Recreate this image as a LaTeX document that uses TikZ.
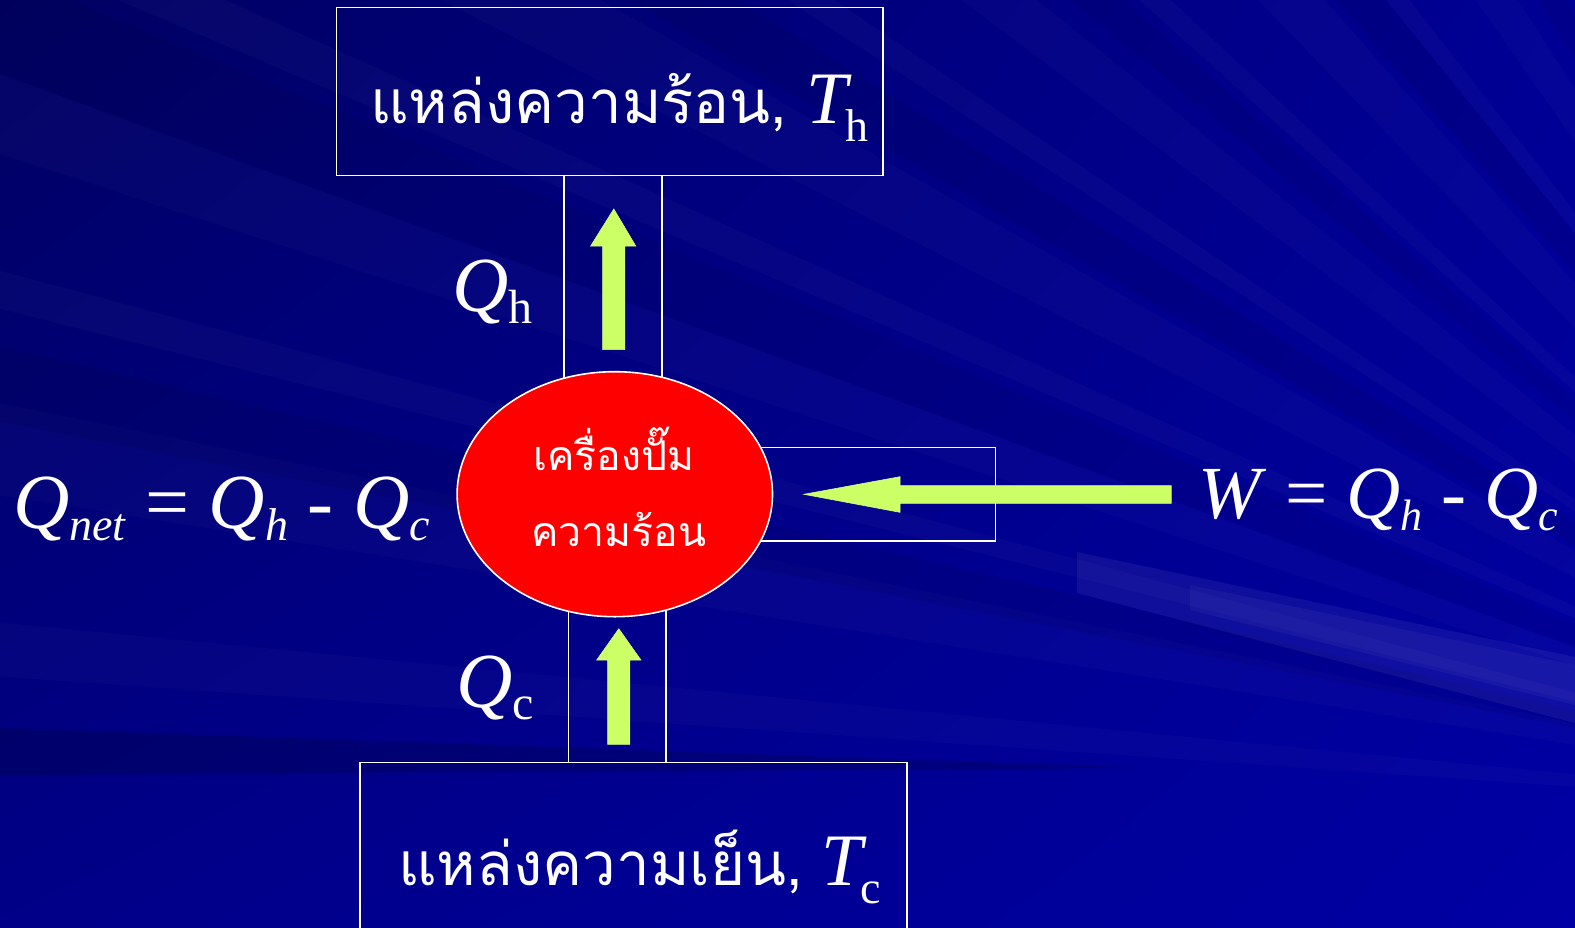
\documentclass[tikz,border=0pt]{standalone}
\usepackage{fontspec}
\setmainfont{Liberation Serif}
\newfontfamily\thaifont[Script=Thai]{Loma}
\usetikzlibrary{shapes.geometric,shadings}
\definecolor{arrowgreen}{HTML}{CCFF66}
\definecolor{bgUL}{HTML}{000062}
\definecolor{bgUR}{HTML}{000094}
\definecolor{bgLL}{HTML}{000088}
\definecolor{bgLR}{HTML}{0000A4}
\definecolor{pumpred}{HTML}{FF0000}
\newcommand\mysub[3]{\raisebox{-#1}{\fontsize{#2}{#2}\selectfont #3}}
\begin{document}
\begin{tikzpicture}[x=1pt,y=-1pt,
  box/.style={draw=white, line width=1.6pt, inner sep=0pt},
  wline/.style={draw=white, line width=1.6pt},
  txt/.style={text=white, inner sep=0pt, anchor=base west},
  blockarrow/.style={fill=arrowgreen, draw=arrowgreen!80!white, line width=0.6pt}]
\useasboundingbox (0,0) rectangle (1575,927);
% background
\shade[upper left=bgUL, upper right=bgUR, lower left=bgLL, lower right=bgLR] (0,0) rectangle (1575,927);
\begin{scope}
\clip (0,0) rectangle (1575,927);
\coordinate (O) at (2050,820);
\foreach \a/\w/\o in {184/1.5/0.018, 189/2.5/0.02, 194/1/0.025, 198/2/0.02, 203/1.2/0.025,
                      207/2.5/0.018, 213/1/0.025, 217/2/0.02, 222/1/0.025, 226/2.5/0.018,
                      231/1/0.025, 235/2/0.02, 240/1.2/0.025}
  \fill[white, opacity=\o] (O) -- +(\a:3000) -- +(\a+\w:3000) -- cycle;
\foreach \a/\w/\o in {191/2/0.07, 200/2.5/0.06, 210/2/0.07, 220/1.5/0.06, 229/2/0.07, 238/1.5/0.06}
  \fill[black, opacity=\o] (O) -- +(\a:3000) -- +(\a+\w:3000) -- cycle;
\fill[white, opacity=0.06] (1077,552) -- (1575,657) -- (1575,723) -- (1077,593) -- cycle;
\fill[white, opacity=0.04] (1190,585) -- (1575,665) -- (1575,705) -- (1190,610) -- cycle;
\fill[black, opacity=0.16] (0,728) -- (1150,768) -- (0,775) -- cycle;
\end{scope}

% boxes
\node[box, minimum width=546.5pt, minimum height=168pt] (hot) at (609.7,91.3) {};
\node[box, minimum width=547.5pt, minimum height=190pt] (cold) at (633.5,857.3) {};
\node[box, minimum width=300pt, minimum height=93.7pt] (work) at (845.4,494.2) {};
% connector stems (hidden behind the pump)
\coordinate (tl) at (563.9,260);
\coordinate (tr) at (662.1,260);
\coordinate (bl) at (568.5,700);
\coordinate (br) at (666.0,700);
\draw[wline] (hot.south -| tl) -- (tl |- 0,494);
\draw[wline] (hot.south -| tr) -- (tr |- 0,494);
\draw[wline] (cold.north -| bl) -- (bl |- 0,494);
\draw[wline] (cold.north -| br) -- (br |- 0,494);
% pump
\node[ellipse, fill=pumpred, draw=white, line width=1.6pt, inner sep=0pt,
      minimum width=315.4pt, minimum height=245pt] (pump) at (614.8,494.2) {};
\node[txt] (pumpA) at (533,470) {\fontsize{41}{41}\selectfont\thaifont เครื่องปั๊ม};
\node[txt] (pumpB) at (531,546.7) {\fontsize{41}{41}\selectfont\thaifont ความร้อน};

% block arrows
\fill[blockarrow] (613.8,209) -- (635.8,246.1) -- (624.8,246.1) -- (624.8,349.6)
   -- (602.7,349.6) -- (602.7,246.1) -- (590.6,246.1) -- cycle;
\fill[blockarrow] (618.8,628.8) -- (640.9,660) -- (629.8,660) -- (629.8,744.3)
   -- (607.7,744.3) -- (607.7,660) -- (596.7,660) -- cycle;
\fill[blockarrow] (804,494.3) -- (900,476.7) -- (900,485.7) -- (1171.2,485.7)
   -- (1171.2,503.3) -- (900,503.3) -- (900,512.3) -- cycle;

% texts
\node[txt] (hotT) at (370,123.3) {\fontsize{60}{60}\selectfont\thaifont แหล่งความร้อน,\fontsize{74}{74}\selectfont\rmfamily\ \textit{T}\kern-6pt\mysub{18pt}{46}{h}};
\node[txt] (coldT) at (398,885) {\fontsize{60}{60}\selectfont\thaifont แหล่งความเย็น,\fontsize{74}{74}\selectfont\rmfamily\ \textit{T}\kern-6pt\mysub{18pt}{46}{c}};
\node[txt] (Qh) at (452,311) {\fontsize{78}{78}\selectfont\textit{Q}\mysub{12pt}{48}{h}};
\node[txt] (Qc) at (456,707) {\fontsize{78}{78}\selectfont\textit{Q}\mysub{12pt}{48}{c}};
\node[txt] (Qnet) at (13,528) {\fontsize{78}{78}\selectfont\textit{Q}\mysub{12pt}{46}{\itshape net}\ =\ \textit{Q}\mysub{12pt}{46}{\itshape h}\ -\ \textit{Q}\mysub{12pt}{46}{\itshape c}};
\node[txt] (Wf) at (1198,518) {\fontsize{75}{75}\selectfont\textit{W}\ =\ \textit{Q}\mysub{12pt}{44}{\itshape h}\ -\ \textit{Q}\mysub{12pt}{44}{\itshape c}};
\end{tikzpicture}
\end{document}
